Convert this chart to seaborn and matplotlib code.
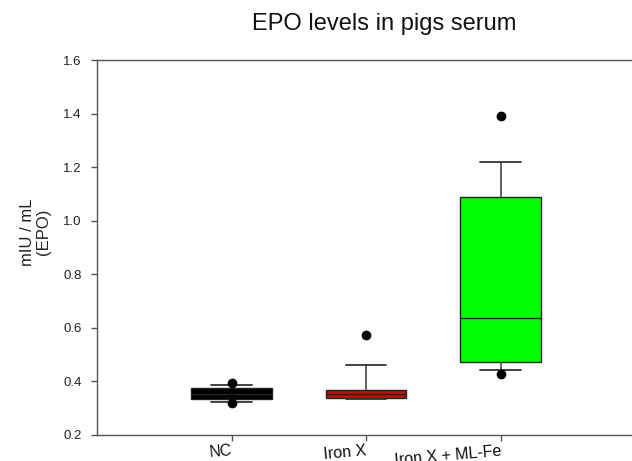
import matplotlib
matplotlib.use("Agg")
import matplotlib.pyplot as plt
import seaborn as sns
import pandas as pd
import numpy as np

# ---- data ----
groups = ["NC", "Iron X", "Iron X + ML-Fe"]
nc_values = [0.319, 0.322, 0.332, 0.340, 0.346, 0.358, 0.366, 0.374, 0.386, 0.392]
ironx_values = [0.331, 0.331, 0.333, 0.340, 0.345, 0.355, 0.360, 0.3707, 0.459, 0.571]
ironx_mlfe_values = [0.427, 0.442, 0.465, 0.489, 0.580, 0.694, 1.020, 1.108, 1.218, 1.392]
box_colors = ["#000000", "#e00000", "#00ff00"]
y_ticks = [0.2, 0.4, 0.6, 0.8, 1.0, 1.2, 1.4, 1.6]
title = "EPO levels in pigs serum"
y_label = "mIU / mL\n(EPO)"

df = pd.DataFrame({
    "group": np.repeat(groups, [len(nc_values), len(ironx_values), len(ironx_mlfe_values)]),
    "value": nc_values + ironx_values + ironx_mlfe_values,
})

sns.set_style("ticks")
plt.rcParams["font.family"] = ["Liberation Sans", "DejaVu Sans"]

W, H = 632, 461
fig = plt.figure(figsize=(W / 100, H / 100), dpi=100)
ax = fig.add_axes([97 / W, (H - 434.5) / H, 538 / W, 374.5 / H])

sns.boxplot(
    data=df, x="group", y="value", hue="group", order=groups, hue_order=groups,
    palette=box_colors, saturation=1, width=0.6, whis=(10, 90),
    linecolor="#222222", linewidth=1.0, legend=False, ax=ax,
    flierprops=dict(marker="o", markerfacecolor="black", markeredgecolor="black",
                    markersize=6),
    whiskerprops=dict(color="#555555", linewidth=1.3),
    capprops=dict(color="#333333", linewidth=1.3),
    medianprops=dict(color="#222222", linewidth=1.0),
)

ax.set_xlim(-1, 3)
ax.set_ylim(0.2, 1.6)
ax.set_yticks(y_ticks)
ax.set_yticklabels([f"{v:.1f}" for v in y_ticks], fontsize=9.5, color="#222222")
ax.set_xticks(range(len(groups)))
ax.set_xticklabels(groups, fontsize=11.5, rotation=5, ha="right", va="top",
                   rotation_mode="anchor", color="#111111")
ax.set_xlabel("")
ax.set_ylabel(y_label, fontsize=12, color="#222222", linespacing=1.1)
ax.yaxis.set_label_coords(-0.0855, 0.541)

for s in ax.spines.values():
    s.set_visible(True)
    s.set_color("#555555")
    s.set_linewidth(1.0)
ax.tick_params(axis="y", length=4, width=1, color="#555555", pad=7)
ax.tick_params(axis="x", length=4, width=1, color="#555555", pad=2.5)

fig.text(384 / W, 1 - 24 / H, title, ha="center", va="center", fontsize=17,
         color="#111111")

fig.savefig("out.png", dpi=100, facecolor="white")
